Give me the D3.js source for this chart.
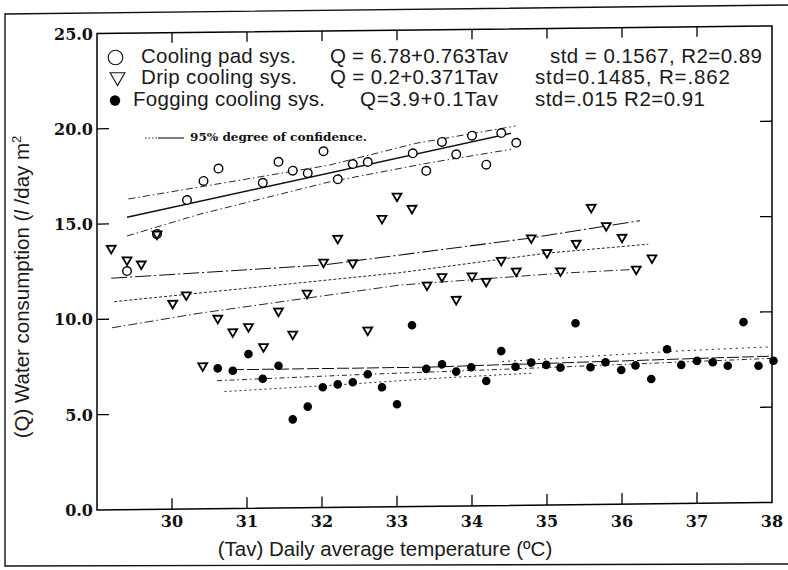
<!DOCTYPE html>
<html>
<head>
<meta charset="utf-8">
<script src="https://cdn.jsdelivr.net/npm/d3@7"></script>
<style>
  body { margin: 0; background: #fff; }
  svg { display: block; }
</style>
</head>
<body>
<script>
// axis ticks
var tempTicks = [30, 31, 32, 33, 34, 35, 36, 37, 38];
var qTicks = [0, 5, 10, 15, 20, 25];
var qTickLabels = ["0.0", "5.0", "10.0", "15.0", "20.0", "25.0"];

// Cooling pad (open circles)
var padTemp = [29.40, 29.80, 30.20, 30.42, 30.62, 31.21, 31.42, 31.61, 31.81, 32.02, 32.21,
               32.41, 32.61, 33.21, 33.39, 33.60, 33.79, 34.00, 34.19, 34.39, 34.59];
var padQ    = [12.52, 14.44, 16.21, 17.20, 17.84, 17.07, 18.16, 17.69, 17.55, 18.69, 17.21,
               18.00, 18.10, 18.53, 17.60, 19.11, 18.45, 19.42, 17.89, 19.54, 19.02];

// Drip cooling (open triangles)
var dripTemp = [29.19, 29.40, 29.59, 29.80, 30.01, 30.19, 30.41, 30.61, 30.81, 31.02, 31.22, 31.42,
                31.61, 31.80, 32.02, 32.21, 32.41, 32.61, 32.80, 33.00, 33.20, 33.40, 33.60, 33.79,
                34.00, 34.19, 34.39, 34.59, 34.79, 35.00, 35.18, 35.39, 35.59, 35.79, 36.00, 36.19, 36.40];
var dripQ    = [13.72, 13.10, 12.88, 14.44, 10.80, 11.23, 7.50, 9.99, 9.27, 9.53, 8.47, 10.33,
                9.11, 11.25, 12.87, 14.11, 12.82, 9.28, 15.13, 16.29, 15.64, 11.61, 12.04, 10.84,
                12.06, 11.77, 12.86, 12.29, 14.02, 13.24, 12.27, 13.71, 15.59, 14.62, 14.00, 12.32, 12.90];

// Fogging (filled circles)
var fogTemp = [30.61, 30.81, 31.02, 31.21, 31.42, 31.61, 31.81, 32.01, 32.21, 32.41, 32.61, 32.80, 33.00,
               33.20, 33.39, 33.60, 33.79, 33.99, 34.19, 34.39, 34.58, 34.79, 34.99, 35.18, 35.38, 35.58,
               35.78, 35.99, 36.18, 36.39, 36.60, 36.79, 37.00, 37.21, 37.41, 37.62, 37.82, 38.02];
var fogQ    = [7.36, 7.23, 8.09, 6.79, 7.46, 4.64, 5.30, 6.31, 6.45, 6.55, 6.96, 6.27, 5.37,
               9.51, 7.21, 7.44, 7.05, 7.27, 6.54, 8.10, 7.27, 7.48, 7.35, 7.20, 9.52, 7.20,
               7.45, 7.04, 7.27, 6.55, 8.10, 7.27, 7.47, 7.39, 7.20, 9.48, 7.18, 7.43];

// regression and confidence lines as [Tav, Q]
var padFit   = [[29.40, 15.34], [34.52, 19.52]];
var padUpper = [[29.42, 16.30], [32.10, 17.96], [33.25, 19.05], [34.58, 19.90]];
var padLower = [[29.40, 14.36], [30.36, 15.45], [32.10, 17.08], [33.43, 18.02], [34.52, 18.68]];

var dripTop    = [[29.19, 12.15], [32.01, 12.72], [34.79, 14.02], [36.24, 14.86]];
var dripMiddle = [[29.23, 10.92], [33.03, 12.27], [34.99, 13.21], [36.35, 13.62]];
var dripLower  = [[29.20, 9.55], [30.36, 10.26], [33.03, 11.62], [35.18, 12.15], [36.19, 12.31]];

var fogFit    = [[30.80, 7.28], [33.40, 7.30], [38.00, 7.68]];
var fogDash   = [[30.60, 6.71], [31.20, 6.79], [32.60, 6.96], [34.20, 7.12], [38.00, 7.56]];
var fogLower  = [[30.70, 6.14], [32.00, 6.38], [33.66, 6.74], [34.80, 6.92]];
var fogUpper  = [[34.40, 7.55], [35.80, 7.82], [36.80, 8.01], [38.00, 8.17]];

// legend text
var legendNames = ["Cooling pad sys.", "Drip cooling sys.", "Fogging cooling sys."];
var legendEq    = ["Q = 6.78+0.763Tav", "Q = 0.2+0.371Tav", "Q=3.9+0.1Tav"];
var legendStat  = ["std = 0.1567, R2=0.89", "std=0.1485, R=.862", "std=.015  R2=0.91"];

var width = 788;
var height = 570;
var sansFont = "'Liberation Sans', Arial, Helvetica, sans-serif";
var serifFont = "'DejaVu Serif', 'Liberation Serif', serif";

var x = d3.scaleLinear().domain([29, 38]).range([97, 772]);
var y = d3.scaleLinear().domain([0, 25]).range([510, 33.5]);

var svg = d3.select("body").append("svg")
    .attr("width", width)
    .attr("height", height);

svg.append("rect").attr("width", width).attr("height", height).attr("fill", "#fff");

// scanned page border
svg.append("path")
  .attr("d", "M788,5 L5,14 L5,566 L788,564")
  .attr("fill", "none")
  .attr("stroke", "#111")
  .attr("stroke-width", 1.4);

// scan is slightly tilted: right side sits higher
var plot = svg.append("g")
  .attr("transform", "translate(0,1.08) skewY(-0.64)");

plot.append("rect")
  .attr("x", x(29))
  .attr("y", y(25))
  .attr("width", x(38) - x(29))
  .attr("height", y(0) - y(25))
  .attr("fill", "none")
  .attr("stroke", "#000")
  .attr("stroke-width", 1.5);

var inner = tempTicks.filter(function(t) { return t < 38; });
var innerQ = qTicks.filter(function(q) { return q > 0 && q < 25; });

inner.forEach(function(t) {
  plot.append("line").attr("x1", x(t)).attr("x2", x(t))
    .attr("y1", y(25)).attr("y2", y(25) + 10)
    .attr("stroke", "#000").attr("stroke-width", 1.3);
  plot.append("line").attr("x1", x(t)).attr("x2", x(t))
    .attr("y1", y(0)).attr("y2", y(0) - 11)
    .attr("stroke", "#000").attr("stroke-width", 1.3);
});

innerQ.forEach(function(q) {
  plot.append("line").attr("x1", x(29)).attr("x2", x(29) + 12)
    .attr("y1", y(q)).attr("y2", y(q))
    .attr("stroke", "#000").attr("stroke-width", 1.3);
  plot.append("line").attr("x1", x(38)).attr("x2", x(38) - 12)
    .attr("y1", y(q)).attr("y2", y(q))
    .attr("stroke", "#000").attr("stroke-width", 1.3);
});

// y tick labels
qTicks.forEach(function(q, i) {
  svg.append("text")
    .attr("x", 93)
    .attr("y", y(q) + 6)
    .attr("text-anchor", "end")
    .style("font-family", serifFont)
    .style("font-weight", "bold")
    .style("font-size", "16px")
    .attr("fill", "#111")
    .text(qTickLabels[i]);
});

// x tick labels
tempTicks.forEach(function(t) {
  svg.append("text")
    .attr("x", x(t))
    .attr("y", 527)
    .attr("text-anchor", "middle")
    .style("font-family", serifFont)
    .style("font-weight", "bold")
    .style("font-size", "16px")
    .attr("fill", "#111")
    .text(t);
});

// fitted and confidence lines
var line = d3.line()
  .x(function(d) { return x(d[0]); })
  .y(function(d) { return y(d[1]); });

function drawLine(data, dash, w) {
  plot.append("path")
    .attr("d", line(data))
    .attr("fill", "none")
    .attr("stroke", "#111")
    .attr("stroke-width", w)
    .attr("stroke-dasharray", dash);
}

drawLine(padFit, null, 1.5);
drawLine(padUpper, "7,3,1.5,3", 0.9);
drawLine(padLower, "7,3,1.5,3", 0.9);
drawLine(dripTop, "16,3,2,3", 1.1);
drawLine(dripMiddle, "3,2", 0.9);
drawLine(dripLower, "9,3,1.5,3", 0.9);
drawLine(fogFit, "12,3", 1.0);
drawLine(fogDash, "5,3,1.5,3", 0.9);
drawLine(fogLower, "2,3", 0.9);
drawLine(fogUpper, "2,4", 0.9);

// markers
var tri = d3.symbol().type(d3.symbolTriangle).size(34);

plot.selectAll(".pad").data(padTemp).enter().append("circle")
  .attr("class", "pad")
  .attr("cx", function(d) { return x(d); })
  .attr("cy", function(d, i) { return y(padQ[i]); })
  .attr("r", 4.3)
  .attr("fill", "#fff")
  .attr("stroke", "#000")
  .attr("stroke-width", 1.4);

plot.selectAll(".drip").data(dripTemp).enter().append("path")
  .attr("class", "drip")
  .attr("d", tri)
  .attr("transform", function(d, i) {
    return "translate(" + x(d) + "," + y(dripQ[i]) + ") rotate(180)";
  })
  .attr("fill", "#fff")
  .attr("stroke", "#000")
  .attr("stroke-width", 1.8);

plot.selectAll(".fog").data(fogTemp).enter().append("circle")
  .attr("class", "fog")
  .attr("cx", function(d) { return x(d); })
  .attr("cy", function(d, i) { return y(fogQ[i]); })
  .attr("r", 4.3)
  .attr("fill", "#000");

// legend, widths measured on the scan
var rowY = [63, 84, 106];
var nameX = [141, 141, 133];
var nameW = [155, 156, 192];
var eqX = [330, 330, 360];
var eqW = [178, 168, 138];
var statX = [550, 535, 535];
var statW = [212, 195, 170];

svg.append("circle").attr("cx", 115.5).attr("cy", 57.5).attr("r", 7.3)
  .attr("fill", "none").attr("stroke", "#111").attr("stroke-width", 1.1);
svg.append("path")
  .attr("d", d3.symbol().type(d3.symbolTriangle).size(95))
  .attr("transform", "translate(117.5,77) rotate(180)")
  .attr("fill", "none").attr("stroke", "#111").attr("stroke-width", 1.1);
svg.append("circle").attr("cx", 115).attr("cy", 100.5).attr("r", 5.2).attr("fill", "#000");

legendNames.forEach(function(n, i) {
  var ty = rowY[i];
  [[nameX[i], nameW[i], n], [eqX[i], eqW[i], legendEq[i]], [statX[i], statW[i], legendStat[i]]].forEach(function(p) {
    svg.append("text")
      .attr("x", p[0])
      .attr("y", ty)
      .attr("textLength", p[1])
      .attr("lengthAdjust", "spacing")
      .style("font-family", sansFont)
      .style("font-size", "20.5px")
      .attr("fill", "#1a1a1a")
      .text(p[2]);
  });
});

// confidence legend entry
svg.append("line").attr("x1", 145).attr("x2", 157).attr("y1", 138).attr("y2", 138)
  .attr("stroke", "#111").attr("stroke-width", 0.9).attr("stroke-dasharray", "1.5,2");
svg.append("line").attr("x1", 158).attr("x2", 184).attr("y1", 138).attr("y2", 138)
  .attr("stroke", "#111").attr("stroke-width", 1.1);
svg.append("text")
  .attr("x", 190)
  .attr("y", 141)
  .attr("textLength", 177)
  .attr("lengthAdjust", "spacingAndGlyphs")
  .style("font-family", serifFont)
  .style("font-weight", "bold")
  .style("font-size", "11.5px")
  .attr("fill", "#111")
  .text("95% degree of confidence.");

// axis titles
var yTitle = svg.append("text")
  .attr("transform", "translate(29,287) rotate(-90)")
  .attr("text-anchor", "middle")
  .style("font-family", sansFont)
  .style("font-size", "20.5px")
  .attr("fill", "#1a1a1a");
yTitle.append("tspan").text("(Q) Water consumption (");
yTitle.append("tspan").style("font-style", "italic").text("l");
yTitle.append("tspan").text(" /day m");
yTitle.append("tspan").attr("dy", -8).style("font-size", "13px").text("2");

svg.append("text")
  .attr("x", 385)
  .attr("y", 556)
  .attr("text-anchor", "middle")
  .style("font-family", sansFont)
  .style("font-size", "20.5px")
  .attr("fill", "#1a1a1a")
  .text("(Tav) Daily average temperature (\u00baC)");
</script>
</body>
</html>
